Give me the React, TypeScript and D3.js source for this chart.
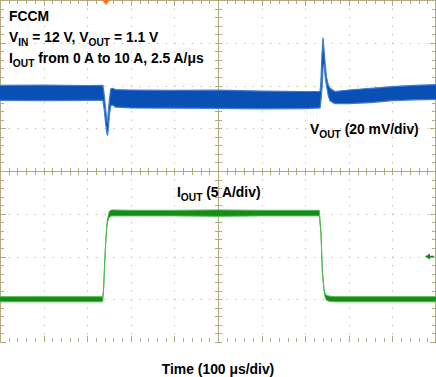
import React from "react";
import * as d3 from "d3";

const W = 436;
const H = 377;
const GRID_W = 436;
const GRID_H = 342;
const X_DIVS = 10;
const Y_DIVS = 8;

// Time axis: 100 µs/div, 10 divisions
const timeDomain = [0, 1000];
// VOUT deviation from 1.1 V in mV, 20 mV/div
const voutDomain = [-116.7, 43.3];
// IOUT in A, 5 A/div
const ioutDomain = [-5, 35];

// VOUT noise band envelope (µs, mV)
const voutTime = [0, 100, 200, 236, 239, 242, 244.5, 246.5, 248.5, 251, 254, 258, 265, 300, 400, 500, 600, 700, 734, 736, 738.5, 741, 743.5, 746, 749, 753, 757, 768, 800, 850, 900, 950, 1000];
const voutUpper = [3.4, 3.5, 3.3, 3.4, -1, -7, -12, -14, -9, -3, 1.7, 2.0, 1.4, 1.2, 1.0, 1.1, 0.7, 0.5, 0.6, 5, 18, 25.7, 19, 13, 7, 3.5, 2.0, 0.5, 1.2, 2.0, 2.8, 3.4, 3.7];
const voutLower = [-3.7, -3.8, -3.7, -3.7, -8, -14, -18, -20.2, -17, -10, -6.2, -5.8, -6.8, -7.2, -7.3, -7.4, -7.6, -7.5, -7.2, -4, 2, 12, 13.5, 7, 3, -1.5, -3.9, -5.2, -5.2, -4.7, -3.8, -3.4, -3.2];

// IOUT band envelope (µs, A)
const ioutTime = [0, 100, 200, 235.5, 237.4, 240.8, 243.1, 246.1, 250.7, 256.2, 300, 400, 500, 600, 700, 732.3, 736.2, 739.2, 743.1, 746, 749.3, 757, 768, 800, 900, 1000];
const ioutUpper = [0.3, 0.3, 0.3, 0.3, 1.1, 5.05, 7.4, 9.3, 10.3, 10.45, 10.4, 10.4, 10.45, 10.4, 10.4, 10.4, 7.85, 3.5, 1.2, 0.65, 0.45, 0.35, 0.3, 0.3, 0.3, 0.3];
const ioutLower = [-0.3, -0.3, -0.3, -0.3, 0.9, 4.9, 7.2, 8.9, 9.6, 9.75, 9.75, 9.75, 9.7, 9.75, 9.75, 9.75, 7.65, 3.3, 0.95, 0.15, -0.15, -0.25, -0.3, -0.3, -0.3, -0.3];

const triggerTime = 243; // µs
const triggerLevel = 5; // A

const FONT = "'Liberation Sans', Arial, Helvetica, sans-serif";
const GRID = "#b3a981";
const DOT = "#bfb592";
const BLUE = "#0a4fb4";
const BLUE_EDGE = "#3d7dd0";
const GREEN = "#178a17";
const GREEN_EDGE = "#4fbb4f";

export default function App() {
  const x = d3.scaleLinear().domain(timeDomain).range([0, GRID_W]);
  const yV = d3.scaleLinear().domain(voutDomain).range([GRID_H, 0]);
  const yI = d3.scaleLinear().domain(ioutDomain).range([GRID_H, 0]);
  const gx = d3.scaleLinear().domain([0, X_DIVS]).range([0, GRID_W]);
  const gy = d3.scaleLinear().domain([0, Y_DIVS]).range([0, GRID_H]);

  const vArea = d3
    .area<number>()
    .x((d) => x(d))
    .y0((_, i) => yV(voutLower[i]))
    .y1((_, i) => yV(voutUpper[i]));
  const vUp = d3.line<number>().x((d) => x(d)).y((_, i) => yV(voutUpper[i]));
  const vLo = d3.line<number>().x((d) => x(d)).y((_, i) => yV(voutLower[i]));

  const iArea = d3
    .area<number>()
    .x((d) => x(d))
    .y0((_, i) => yI(ioutLower[i]))
    .y1((_, i) => yI(ioutUpper[i]));
  const iUp = d3.line<number>().x((d) => x(d)).y((_, i) => yI(ioutUpper[i]));
  const iLo = d3.line<number>().x((d) => x(d)).y((_, i) => yI(ioutLower[i]));

  const minorX = d3.range(0, X_DIVS * 5 + 1).map((k) => gx(k / 5));
  const minorY = d3.range(0, Y_DIVS * 5 + 1).map((k) => gy(k / 5));
  const cx = gx(X_DIVS / 2);
  const cy = gy(Y_DIVS / 2);
  const r = (v: number) => Math.round(v) + 0.5;

  const tx = x(triggerTime);
  const ty = yI(triggerLevel);

  return (
    <svg
      width={W}
      height={H}
      style={{ position: "absolute", left: 0, top: 0, background: "#fff" }}
      fontFamily={FONT}
    >
      <rect x={0} y={0} width={W} height={H} fill="#fff" />
      {/* dotted grid */}
      <g stroke={DOT} strokeWidth={1}>
        {d3.range(1, X_DIVS).filter((i) => i !== X_DIVS / 2).map((i) => (
          <line key={"gx" + i} x1={r(gx(i))} x2={r(gx(i))} y1={0} y2={GRID_H} strokeDasharray="1.2 7.35" />
        ))}
        {d3.range(1, Y_DIVS).filter((j) => j !== Y_DIVS / 2).map((j) => (
          <line key={"gy" + j} y1={r(gy(j))} y2={r(gy(j))} x1={0} x2={GRID_W} strokeDasharray="1.2 7.52" />
        ))}
      </g>
      {/* center cross & border ticks */}
      <g stroke={GRID} strokeWidth={1} shapeRendering="crispEdges">
        <line x1={r(cx)} x2={r(cx)} y1={0} y2={GRID_H} />
        <line y1={r(cy)} y2={r(cy)} x1={0} x2={GRID_W} />
        <line x1={0} x2={GRID_W} y1={0.5} y2={0.5} />
        <line x1={0.5} x2={0.5} y1={0} y2={GRID_H} />
        <line x1={GRID_W - 0.5} x2={GRID_W - 0.5} y1={0} y2={GRID_H} />
        {minorX.map((px, k) => {
          const major = k % 5 === 0;
          return (
            <g key={"mx" + k}>
              <line x1={r(px)} x2={r(px)} y1={0} y2={major ? 6 : 4} />
              <line x1={r(px)} x2={r(px)} y1={GRID_H} y2={GRID_H - (major ? 6 : 4)} />
              <line x1={r(px)} x2={r(px)} y1={cy - 3} y2={cy + 4} />
            </g>
          );
        })}
        {minorY.map((py, k) => {
          const major = k % 5 === 0;
          return (
            <g key={"my" + k}>
              <line y1={r(py)} y2={r(py)} x1={0} x2={major ? 6 : 4} />
              <line y1={r(py)} y2={r(py)} x1={GRID_W} x2={GRID_W - (major ? 6 : 4)} />
              <line y1={r(py)} y2={r(py)} x1={cx - 3} x2={cx + 4} />
            </g>
          );
        })}
      </g>

      {/* VOUT trace */}
      <path d={vArea(voutTime) ?? ""} fill={BLUE} />
      <path d={vUp(voutTime) ?? ""} fill="none" stroke={BLUE_EDGE} strokeWidth={1.2} />
      <path d={vLo(voutTime) ?? ""} fill="none" stroke={BLUE_EDGE} strokeWidth={1.2} />

      {/* IOUT trace */}
      <path d={iArea(ioutTime) ?? ""} fill={GREEN} />
      <path d={iUp(ioutTime) ?? ""} fill="none" stroke={GREEN_EDGE} strokeWidth={1} />
      <path d={iLo(ioutTime) ?? ""} fill="none" stroke={GREEN_EDGE} strokeWidth={1} />

      {/* trigger position marker */}
      <path d={`M${tx - 4},0 L${tx + 4},0 L${tx},5 Z`} fill="#f47a20" />
      {/* trigger level marker */}
      <path d={`M${GRID_W - 11},${ty} L${GRID_W - 6},${ty - 3} L${GRID_W - 6},${ty + 3} Z`} fill={GREEN} />
      <line x1={GRID_W - 7} x2={GRID_W - 2} y1={ty} y2={ty} stroke={GREEN} strokeWidth={1.5} />

      {/* text */}
      <g fontWeight="bold" fontSize={13.9} fill="#000">
        <text x={9} y={21}>FCCM</text>
        <text x={9} y={41.5}>
          V<tspan fontSize={10.2} dy={4}>IN</tspan>
          <tspan dy={-4}> = 12 V, V</tspan>
          <tspan fontSize={10.2} dy={4}>OUT</tspan>
          <tspan dy={-4}> = 1.1 V</tspan>
        </text>
        <text x={9} y={62.5}>
          I<tspan fontSize={10.2} dy={4}>OUT</tspan>
          <tspan dy={-4}> from 0 A to 10 A, 2.5 A/μs</tspan>
        </text>
        <text x={310} y={134}>
          V<tspan fontSize={10.2} dy={4}>OUT</tspan>
          <tspan dy={-4}> (20 mV/div)</tspan>
        </text>
        <text x={177} y={196.5}>
          I<tspan fontSize={10.2} dy={4}>OUT</tspan>
          <tspan dy={-4}> (5 A/div)</tspan>
        </text>
        <text x={218} y={374} textAnchor="middle">Time (100 μs/div)</text>
      </g>
    </svg>
  );
}
